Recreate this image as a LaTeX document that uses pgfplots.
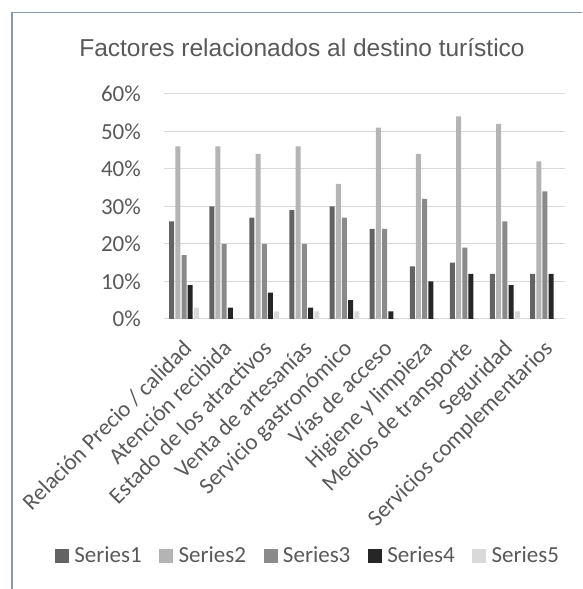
\documentclass[border=0pt]{standalone}
\usepackage{pgfplots}
\pgfplotsset{compat=1.18}
\usepackage{fontspec}
\setmainfont{Carlito}
\newfontfamily\titlefont{Liberation Sans}
\definecolor{sA}{HTML}{636363}
\definecolor{sB}{HTML}{B4B4B4}
\definecolor{sC}{HTML}{8A8A8A}
\definecolor{sD}{HTML}{262626}
\definecolor{sE}{HTML}{D9D9D9}
\definecolor{txt}{HTML}{595959}
\definecolor{grd}{HTML}{D9D9D9}
\definecolor{frm}{HTML}{8497B0}
\newcommand{\sq}[1]{\textcolor{#1}{\rule{14pt}{14pt}}\hspace{5.4pt}}
\begin{document}
\begin{tikzpicture}[x=1pt,y=1pt]
\useasboundingbox (0,0) rectangle (582,589);
\draw[frm, line width=1.6pt] (11.8,0) -- (11.8,576.5) -- (582,576.5);
\node[font=\titlefont\fontsize{24.5}{28}\selectfont, text=txt, anchor=base, inner sep=0pt] at (302,532.3) {Factores relacionados al destino turístico};
\begin{axis}[
  at={(164pt,270pt)}, anchor=south west,
  scale only axis, width=401pt, height=225pt,
  xmin=-0.5, xmax=9.5, ymin=0, ymax=60,
  ybar=1.2pt, bar width=5pt,
  xtick={0,...,9},
  xticklabels={Relación Precio / calidad, Atención recibida, Estado de los atractivos, Venta de artesanías, Servicio gastronómico, Vías de acceso, Higiene y limpieza, Medios de transporte, Seguridad, Servicios complementarios},
  ytick={0,10,...,60},
  yticklabel={\pgfmathprintnumber{\tick}\%},
  /pgf/number format/assume math mode=true,
  major tick length=0pt,
  axis x line=bottom, axis y line=left,
  x axis line style={grd, line width=1pt, -},
  y axis line style={draw=none},
  ymajorgrids, grid style={grd, line width=1pt},
  tick label style={font=\fontsize{23}{26}\selectfont, text=txt, inner sep=0pt},
  yticklabel style={anchor=east, xshift=-23pt},
  xticklabel style={xshift=9pt, yshift=-31pt, rotate=45, anchor=base east},
  legend style={at={(0.3566,-1.0507)}, anchor=center, draw=none, fill=none, font=\fontsize{23}{26}\selectfont, text=txt, nodes={inner sep=0pt}, /tikz/every even column/.append style={column sep=17.5pt}},
  legend cell align=left,
  legend columns=5,
  legend image code/.code={},
  every axis plot/.append style={draw=none},
]
\addplot[fill=sA] coordinates {(0,26) (1,30) (2,27) (3,29) (4,30) (5,24) (6,14) (7,15) (8,12) (9,12)};
\addplot[fill=sB] coordinates {(0,46) (1,46) (2,44) (3,46) (4,36) (5,51) (6,44) (7,54) (8,52) (9,42)};
\addplot[fill=sC] coordinates {(0,17) (1,20) (2,20) (3,20) (4,27) (5,24) (6,32) (7,19) (8,26) (9,34)};
\addplot[fill=sD] coordinates {(0,9) (1,3) (2,7) (3,3) (4,5) (5,2) (6,10) (7,12) (8,9) (9,12)};
\addplot[fill=sE] coordinates {(0,3) (1,0) (2,2) (3,2) (4,2) (5,0) (6,0) (7,0) (8,2) (9,0)};
\legend{\sq{sA}Series1, \sq{sB}Series2, \sq{sC}Series3, \sq{sD}Series4, \sq{sE}Series5}
\end{axis}
\end{tikzpicture}
\end{document}
